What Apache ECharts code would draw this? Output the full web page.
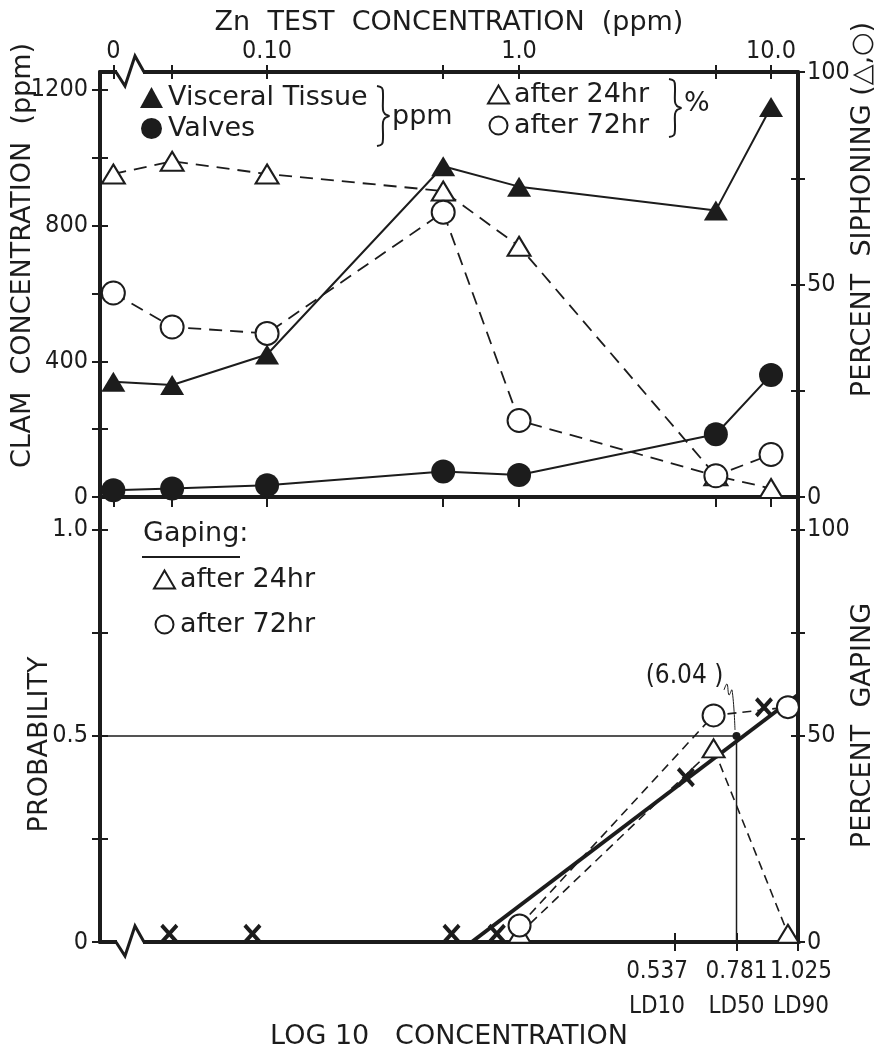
<!DOCTYPE html>
<html>
<head>
<meta charset="utf-8">
<title>Zn test concentration - clam concentration, siphoning and gaping</title>
<script src="https://cdn.jsdelivr.net/npm/echarts@6/dist/echarts.min.js"></script>
<style>
  html, body { margin: 0; padding: 0; background: #fff; }
  #chart { width: 879px; height: 1054px; }
</style>
</head>
<body>
<div id="chart"></div>
<script>
// test concentrations (ppm); 0 is the control, drawn left of the axis break
const testConc = [0, 0.042, 0.10, 0.50, 1.0, 6.04, 10.0];
const topTickConc = [0, 0.10, 1.0, 10.0];
const topTickLabels = ['0', '0.10', '1.0', '10.0'];

// upper panel: zinc in the clam (ppm) and percent siphoning
const visceral = [340, 330, 420, 975, 915, 845, 1150];
const valves = [20, 25, 35, 75, 65, 185, 360];
const siphon24 = [76, 79, 76, 72, 59, 5, 2];
const siphon72 = [48, 40, 38.5, 67, 18, 5, 10];

// lower panel, x in log10 concentration
const ldLog = [0.537, 0.781, 1.025];
const ldNames = ['LD10', 'LD50', 'LD90'];
const probLog = [-1.47, -1.14, -0.35, -0.17, 0.58, 0.89];
const probVal = [0.02, 0.02, 0.02, 0.02, 0.40, 0.57];
const fitLog = [-0.27, 1.025];
const fitVal = [0, 0.60];
const gapLog = [-0.08, 0.69, 0.985];
const gaping24 = [2, 47, 2];
const gaping72 = [4, 55, 57];

// tick labels
const clamLabels = [0, 400, 800, 1200];
const percentLabels = [0, 50, 100];
const probLabels = [0, 0.5, 1.0];

const INK = '#1c1c1c';
const FONT = "'DejaVu Sans', sans-serif";
const NUM_FONT = "'DejaVu Sans Condensed', 'DejaVu Sans', sans-serif";

// layout of the two panels
const LEFT = 100, RIGHT = 798, TOP = 72, MID = 497, BOTTOM = 942;
const CONTROL_POS = -1.61;            // log position where the 0 ppm control is drawn
const XT_MIN = -1.663, XT_MAX = 1.107; // upper panel, log10 ppm
const XB_MIN = -1.745, XB_MAX = 1.025; // lower panel, log10 concentration

const toPos = c => c === 0 ? CONTROL_POS : Math.log10(c);
const concPos = testConc.map(toPos);
const zip = (xs, ys) => xs.map((x, i) => [x, ys[i]]);
const steps = (max, step) => Array.from({length: Math.round(max / step) + 1}, (_, i) => +(i * step).toFixed(4));

const numLabel = {fontFamily: NUM_FONT, fontSize: 25, color: INK, hideOverlap: false, showMinLabel: true, showMaxLabel: true};
const nameStyle = {fontFamily: FONT, fontSize: 27, color: INK};

// every axis gets a twin that only draws ticks on the inner side, so the ticks cross the line
function pair(main, twinLabel) {
  const twin = Object.assign({}, main, {
    name: '',
    axisLine: {show: false, onZero: false},
    axisLabel: twinLabel || {show: false},
    axisTick: Object.assign({}, main.axisTick, {inside: true}),
    silent: true
  });
  return [main, twin];
}

const axisLine = {show: true, onZero: false, lineStyle: {color: INK, width: 4}};
const tick = (values, len) => ({show: true, customValues: values, length: len || 8, lineStyle: {color: INK, width: 2}});
const axisName = (name, gap, pad) => ({
  name: name, nameLocation: 'middle', nameGap: gap, nameMoveOverlap: false,
  nameTextStyle: Object.assign({}, nameStyle, pad ? {padding: pad} : {})
});

// LD labels; the outer two are nudged apart the way they are lettered on the figure
const ldLabel = values => Object.assign({}, numLabel, {
  customValues: values, margin: 12, fontSize: 24,
  formatter: v => {
    const i = ldLog.findIndex(p => Math.abs(p - v) < 1e-6);
    const key = ['a', 'b', 'c'][i];
    return '{' + key + '|' + v.toFixed(3) + '}\n{' + key + '|' + ldNames[i] + '}';
  },
  rich: {
    a: {fontFamily: NUM_FONT, fontSize: 24, color: INK, lineHeight: 35, padding: [0, 36, 0, 0]},
    b: {fontFamily: NUM_FONT, fontSize: 24, color: INK, lineHeight: 35},
    c: {fontFamily: NUM_FONT, fontSize: 24, color: INK, lineHeight: 35, padding: [0, 0, 0, 6]}
  }
});

const xAxes = [
  ...pair(Object.assign({
    type: 'value', gridIndex: 0, position: 'top', min: XT_MIN, max: XT_MAX,
    axisLine: axisLine, splitLine: {show: false},
    axisTick: tick(concPos, 7),
    axisLabel: Object.assign({}, numLabel, {
      customValues: topTickConc.map(toPos), margin: 8,
      formatter: v => topTickLabels[topTickConc.map(toPos).findIndex(p => Math.abs(p - v) < 1e-6)]
    })
  }, axisName('Zn  TEST  CONCENTRATION  (ppm)', 36))),
  {
    type: 'value', gridIndex: 0, position: 'bottom', min: XT_MIN, max: XT_MAX,
    axisLine: axisLine, splitLine: {show: false},
    axisTick: tick(concPos, 10), axisLabel: {show: false}
  },
  // LD50 label sits on the twin so that its neighbours do not hide it
  ...pair(Object.assign({
    type: 'value', gridIndex: 1, position: 'bottom', min: XB_MIN, max: XB_MAX,
    axisLine: axisLine, splitLine: {show: false},
    axisTick: tick(ldLog, 9),
    axisLabel: ldLabel([ldLog[0], ldLog[2]])
  }, axisName('LOG 10   CONCENTRATION', 81)), Object.assign(ldLabel([ldLog[1]]), {inside: false}))
];
// series use: 0 = top ppm axis, 3 = log10 axis
const yAxes = [
  ...pair(Object.assign({
    type: 'value', gridIndex: 0, position: 'left', min: 0, max: 1253,
    axisLine: axisLine, splitLine: {show: false},
    axisTick: tick(steps(1200, 200), 8),
    axisLabel: Object.assign({}, numLabel, {customValues: clamLabels, margin: 12, formatter: v => String(v)}),
    nameRotate: 90
  }, axisName('CLAM  CONCENTRATION  (ppm)', 64, [0, 0, 0, 58]))),
  ...pair(Object.assign({
    type: 'value', gridIndex: 0, position: 'right', min: 0, max: 100,
    axisLine: axisLine, splitLine: {show: false},
    axisTick: tick(steps(100, 25), 7),
    axisLabel: Object.assign({}, numLabel, {customValues: percentLabels, margin: 9}),
    nameRotate: 90
  }, axisName('PERCENT  SIPHONING (△,○)', 51, [0, 0, 0, 150]))),
  ...pair(Object.assign({
    type: 'value', gridIndex: 1, position: 'left', min: 0, max: 1.08,
    axisLine: axisLine, splitLine: {show: false},
    axisTick: tick(steps(1, 0.25), 8),
    axisLabel: Object.assign({}, numLabel, {
      customValues: probLabels, margin: 12, formatter: v => v === 1 ? '1.0' : String(v)
    }),
    nameRotate: 90
  }, axisName('PROBABILITY', 47, [0, 50, 0, 0]))),
  ...pair(Object.assign({
    type: 'value', gridIndex: 1, position: 'right', min: 0, max: 108,
    axisLine: axisLine, splitLine: {show: false},
    axisTick: tick(steps(100, 25), 7),
    axisLabel: Object.assign({}, numLabel, {customValues: percentLabels, margin: 9}),
    nameRotate: 90
  }, axisName('PERCENT  GAPING', 51, [0, 12, 0, 0])))
];

const solid = {color: INK, width: 2};
const dashed = {color: INK, width: 1.8, type: [13, 8]};
const shortDash = {color: INK, width: 1.6, type: [9, 6]};
const filled = {color: INK, opacity: 1};
const open = {color: '#fff', borderColor: INK, borderWidth: 2, opacity: 1};
const X_MARK = 'path://M0,3L3,0L10,7L17,0L20,3L13,10L20,17L17,20L10,13L3,20L0,17L7,10Z';

const series = [
  {name: 'Visceral Tissue', type: 'line', xAxisIndex: 0, yAxisIndex: 0, data: zip(concPos, visceral),
   symbol: 'triangle', symbolSize: [24, 20], lineStyle: solid, itemStyle: filled, z: 6},
  {name: 'Valves', type: 'line', xAxisIndex: 0, yAxisIndex: 0, data: zip(concPos, valves),
   symbol: 'circle', symbolSize: 24, lineStyle: solid, itemStyle: filled, z: 6},
  {name: 'after 24hr', type: 'line', xAxisIndex: 0, yAxisIndex: 2, data: zip(concPos, siphon24),
   symbol: 'triangle', symbolSize: [23, 19], lineStyle: dashed, itemStyle: open, z: 5},
  {name: 'after 72hr', type: 'line', xAxisIndex: 0, yAxisIndex: 2, data: zip(concPos, siphon72),
   symbol: 'circle', symbolSize: 23, lineStyle: dashed, itemStyle: open, z: 5},

  {name: 'probit line', type: 'line', xAxisIndex: 3, yAxisIndex: 4, data: zip(fitLog, fitVal),
   symbol: 'none', lineStyle: {color: INK, width: 4}, z: 4},
  {name: 'LD50 guide', type: 'line', xAxisIndex: 3, yAxisIndex: 4,
   data: [[XB_MIN, 0.5], [ldLog[1], 0.5], [ldLog[1], 0]],
   symbol: 'none', lineStyle: {color: INK, width: 1.5}, z: 3},
  {name: 'LD50', type: 'scatter', xAxisIndex: 3, yAxisIndex: 4, data: [[ldLog[1], 0.5]],
   symbol: 'circle', symbolSize: 8, itemStyle: filled, z: 7,
   label: {show: true, position: 'top', offset: [-52, -38], fontFamily: NUM_FONT, fontSize: 26, color: INK,
           formatter: () => '(' + Math.pow(10, ldLog[1]).toFixed(2) + ' )'}},
  {name: 'after 24hr', type: 'line', xAxisIndex: 3, yAxisIndex: 6, data: zip(gapLog, gaping24),
   symbol: 'triangle', symbolSize: [22, 18], lineStyle: shortDash, itemStyle: open, z: 5},
  {name: 'after 72hr', type: 'line', xAxisIndex: 3, yAxisIndex: 6, data: zip(gapLog, gaping72),
   symbol: 'circle', symbolSize: 22, lineStyle: shortDash, itemStyle: open, z: 5},
  {name: 'probability', type: 'scatter', xAxisIndex: 3, yAxisIndex: 4, data: zip(probLog, probVal),
   symbol: X_MARK, symbolSize: [18, 20], itemStyle: filled, z: 6}
];

const legendText = {fontFamily: FONT, fontSize: 27, color: INK};
const openTri = {name: 'after 24hr', icon: 'triangle', itemStyle: open};
const openCirc = {name: 'after 72hr', icon: 'circle', itemStyle: open};
const legendBase = {orient: 'vertical', padding: 0, textStyle: legendText, selectedMode: false};
const legends = [
  Object.assign({data: [{name: 'Visceral Tissue', icon: 'triangle', itemStyle: filled}, {name: 'Valves', icon: 'circle', itemStyle: filled}],
   left: 140, top: 84, itemWidth: 23, itemHeight: 21, itemGap: 4}, legendBase),
  Object.assign({data: [openTri, openCirc],
   left: 487, top: 81, itemWidth: 21, itemHeight: 18, itemGap: 4}, legendBase),
  Object.assign({data: [openTri, openCirc],
   left: 153, top: 566, itemWidth: 21, itemHeight: 18, itemGap: 18}, legendBase)
];

// the "}" grouping marks used in the legends
const brace = (x, y, h) => ({
  type: 'polyline', z: 60,
  shape: {smooth: 0.35, points: [[x, y], [x + 5, y + 2], [x + 6, y + 8], [x + 6, y + h / 2 - 6],
    [x + 8, y + h / 2 - 2], [x + 12, y + h / 2], [x + 8, y + h / 2 + 2], [x + 6, y + h / 2 + 6],
    [x + 6, y + h - 8], [x + 5, y + h - 2], [x, y + h]]},
  style: {stroke: INK, lineWidth: 2, fill: null}
});
const txt = (x, y, text, size) => ({type: 'text', x: x, y: y, z: 60,
  style: {text: text, fontFamily: FONT, fontSize: size || 27, fill: INK, verticalAlign: 'middle'}});
const axisBreak = y => [
  {type: 'rect', z: 50, shape: {x: 117, y: y - 10, width: 26, height: 20}, style: {fill: '#fff'}},
  {type: 'polyline', z: 51, shape: {points: [[116, y], [125, y + 14], [135, y - 16], [144, y]]},
   style: {stroke: INK, lineWidth: 3, fill: null}}
];

const graphic = [
  ...axisBreak(TOP),
  ...axisBreak(BOTTOM),
  brace(377, 86, 60),
  txt(392, 117, 'ppm'),
  brace(669, 79, 58),
  txt(684, 104, '%'),
  txt(143, 534, 'Gaping:'),
  {type: 'line', z: 60, shape: {x1: 142, y1: 557, x2: 240, y2: 557}, style: {stroke: INK, lineWidth: 2}},
  // little hand-drawn leader from "(6.04)" down to the LD50 point
  {type: 'polyline', z: 60, shape: {smooth: 0.4, points: [[724, 690], [727, 684], [729, 695], [732, 690], [735, 730]]},
   style: {stroke: INK, lineWidth: 1, fill: null}}
];

const chart = echarts.init(document.getElementById('chart'));
chart.setOption({
  backgroundColor: '#fff',
  animation: false,
  grid: [
    {left: LEFT, right: 879 - RIGHT, top: TOP, height: MID - TOP, outerBoundsMode: 'none'},
    {left: LEFT, right: 879 - RIGHT, top: MID, height: BOTTOM - MID, outerBoundsMode: 'none'}
  ],
  xAxis: xAxes,
  yAxis: yAxes,
  legend: legends,
  series: series,
  graphic: graphic
});
</script>
</body>
</html>
